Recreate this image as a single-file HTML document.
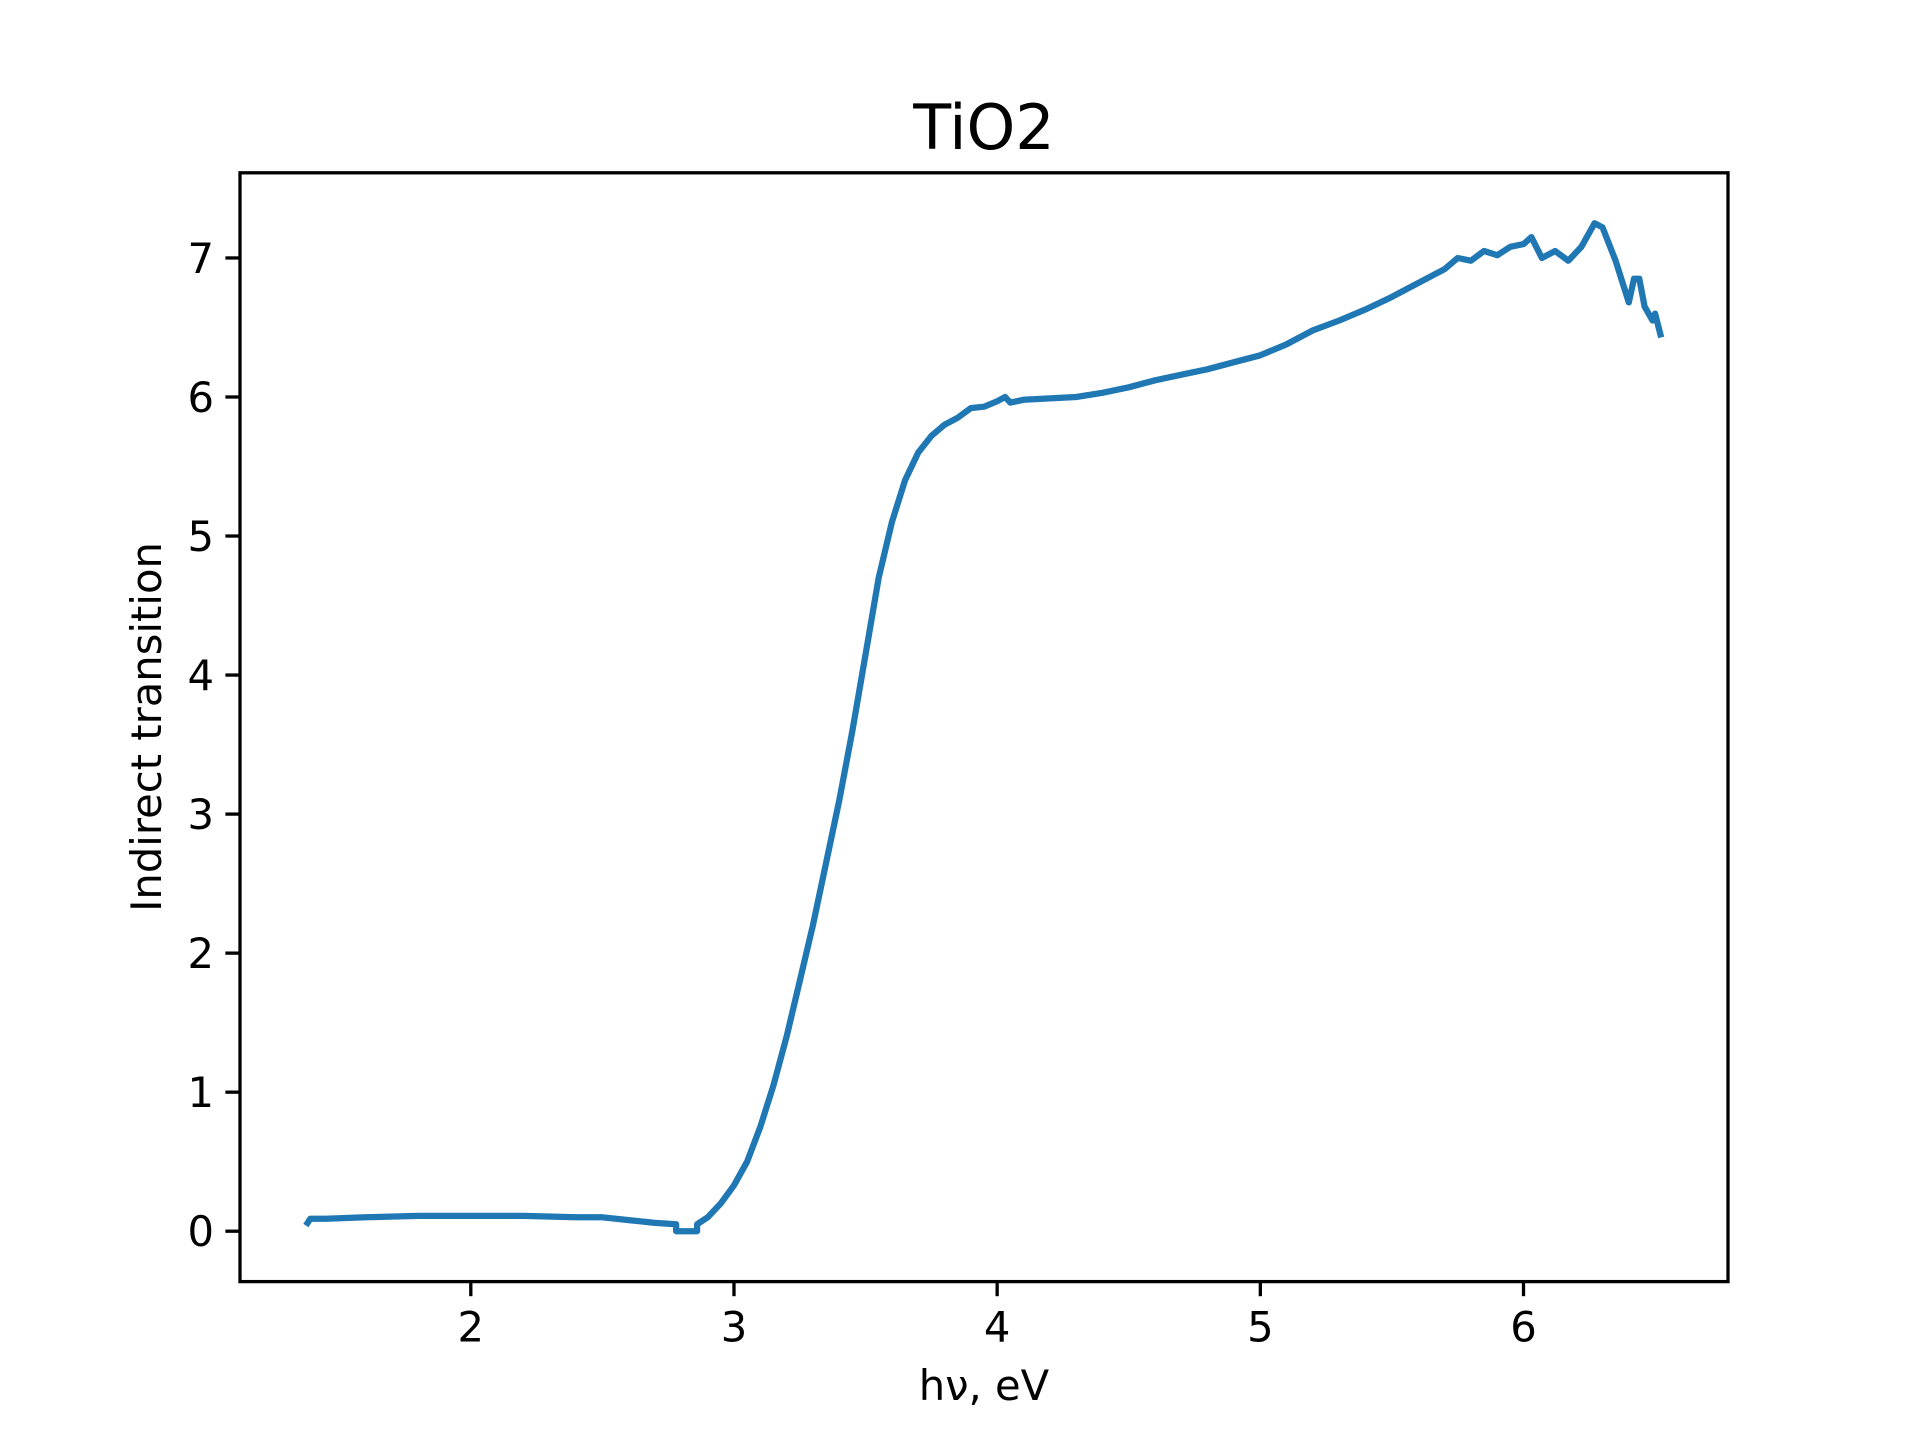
<!DOCTYPE html>
<html><head><meta charset="utf-8"><style>
html,body{margin:0;padding:0;background:#fff;}
svg{display:block;font-family:"DejaVu Sans","Liberation Sans",sans-serif;}
</style></head><body>
<svg id="chart" width="1920" height="1440" viewBox="0 0 1920 1440" xmlns="http://www.w3.org/2000/svg">
<rect width="1920" height="1440" fill="#fff"/>
<text x="984" y="149" font-size="62" text-anchor="middle" fill="#000">TiO2</text>
<g id="xticks"></g>
<g id="yticks"></g>
<path id="series" fill="none" stroke="#1f77b4" stroke-width="6.25" stroke-linejoin="round" stroke-linecap="square"/>
<rect x="240" y="172.8" width="1488" height="1108.8" fill="none" stroke="#000" stroke-width="3.3"/>
<text x="984" y="1400" font-size="41.7" text-anchor="middle" fill="#000">hν, eV</text>
<text transform="translate(161,727) rotate(-90)" font-size="41.7" text-anchor="middle" fill="#000">Indirect transition</text>
</svg>
<script>
const energy = [1.38,1.39,1.45,1.6,1.8,2.0,2.2,2.4,2.5,2.6,2.7,2.78,2.78,2.86,2.86,2.9,2.95,3.0,3.05,3.1,3.15,3.2,3.25,3.3,3.35,3.4,3.45,3.5,3.55,3.6,3.65,3.7,3.75,3.8,3.85,3.9,3.95,4.0,4.03,4.05,4.1,4.2,4.3,4.4,4.5,4.6,4.7,4.8,4.9,5.0,5.1,5.2,5.3,5.4,5.5,5.6,5.7,5.75,5.8,5.85,5.9,5.95,6.0,6.03,6.07,6.12,6.17,6.22,6.27,6.3,6.35,6.4,6.42,6.44,6.46,6.49,6.5,6.52];
const transition = [0.06,0.09,0.09,0.1,0.11,0.11,0.11,0.1,0.1,0.08,0.06,0.05,0.0,0.0,0.05,0.1,0.2,0.33,0.5,0.75,1.05,1.4,1.8,2.2,2.65,3.1,3.6,4.15,4.7,5.1,5.4,5.6,5.72,5.8,5.85,5.92,5.93,5.97,6.0,5.96,5.98,5.99,6.0,6.03,6.07,6.12,6.16,6.2,6.25,6.3,6.38,6.48,6.55,6.63,6.72,6.82,6.92,7.0,6.98,7.05,7.02,7.08,7.1,7.15,7.0,7.05,6.98,7.08,7.25,7.22,6.98,6.68,6.85,6.85,6.65,6.55,6.6,6.45];
const xTickValues = [2,3,4,5,6];
const yTickValues = [0,1,2,3,4,5,6,7];

const L=240,R=1728,T=172.8,B=1281.6;
const xmin=Math.min(...energy),xmax=Math.max(...energy);
const ymin=Math.min(...transition),ymax=Math.max(...transition);
const x0=xmin-0.05*(xmax-xmin),x1=xmax+0.05*(xmax-xmin);
const y0=ymin-0.05*(ymax-ymin),y1=ymax+0.05*(ymax-ymin);
const sx=v=>L+(v-x0)/(x1-x0)*(R-L);
const sy=v=>B-(v-y0)/(y1-y0)*(B-T);
const NS="http://www.w3.org/2000/svg";
let d="";
energy.forEach((e,i)=>{d+=(i?"L":"M")+sx(e).toFixed(1)+","+sy(transition[i]).toFixed(1);});
document.getElementById("series").setAttribute("d",d);
const gx=document.getElementById("xticks");
xTickValues.forEach(v=>{
  const l=document.createElementNS(NS,"line");
  
  
  l.setAttribute("x1",sx(v));l.setAttribute("x2",sx(v));l.setAttribute("y1",B);l.setAttribute("y2",B+14.6);
  l.setAttribute("stroke","#000");l.setAttribute("stroke-width","3.3");gx.appendChild(l);
  const t=document.createElementNS(NS,"text");
  
  
  t.setAttribute("x",sx(v));t.setAttribute("y",B+60);t.setAttribute("font-size","41.7");t.setAttribute("text-anchor","middle");
  t.textContent=v;gx.appendChild(t);
});
const gy=document.getElementById("yticks");
yTickValues.forEach(v=>{
  const l=document.createElementNS(NS,"line");
  
  
  l.setAttribute("x1",L-14.6);l.setAttribute("x2",L);l.setAttribute("y1",sy(v));l.setAttribute("y2",sy(v));
  l.setAttribute("stroke","#000");l.setAttribute("stroke-width","3.3");gy.appendChild(l);
  const t=document.createElementNS(NS,"text");
  
  
  t.setAttribute("x",L-26);t.setAttribute("y",sy(v)+15);t.setAttribute("font-size","41.7");t.setAttribute("text-anchor","end");
  t.textContent=v;gy.appendChild(t);
});
</script>
</body></html>
